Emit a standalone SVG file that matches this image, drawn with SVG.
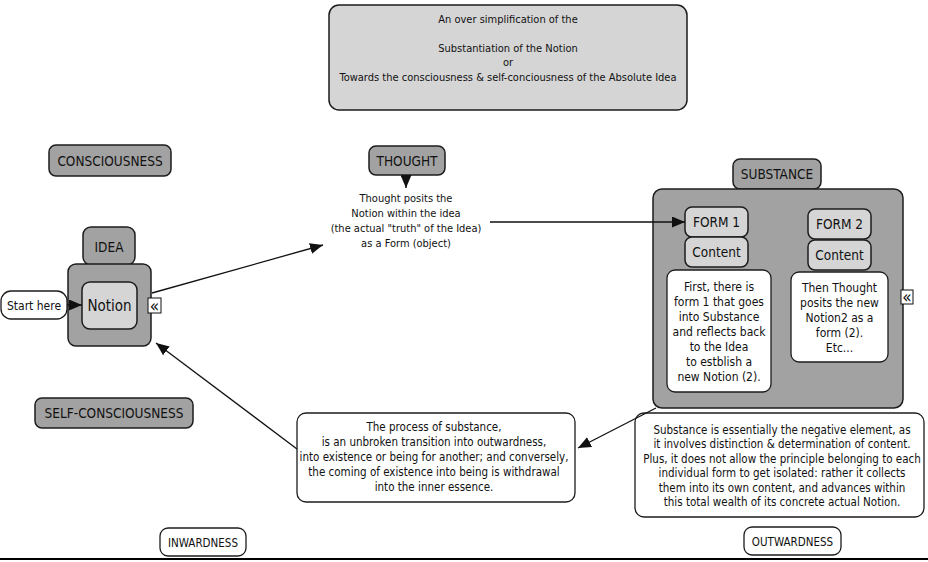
<svg xmlns="http://www.w3.org/2000/svg" width="928" height="562" viewBox="0 0 928 562">
<style>
.dark{fill:#a2a2a2;stroke:#1c1c1c;stroke-width:1.5}
.light{fill:#d5d5d5;stroke:#1c1c1c;stroke-width:1.5}
.white{fill:#ffffff;stroke:#1c1c1c;stroke-width:1.3}
text{font-family:"DejaVu Sans Condensed","DejaVu Sans",sans-serif;font-stretch:condensed;fill:#111;text-anchor:middle}
.t11{font-size:11px}
.t115{font-size:11.5px}
.t12{font-size:12px}
.lbl{font-size:13.5px}
.ico{font-size:17px;font-family:"DejaVu Sans",sans-serif}
.conn{stroke:#111;stroke-width:1.3;fill:none;marker-end:url(#arr)}
</style>
<defs>
<marker id="arr" markerUnits="userSpaceOnUse" markerWidth="13" markerHeight="11" refX="13" refY="5.5" orient="auto">
<path d="M0,0 L13,5.5 L0,11 z" fill="#111"/>
</marker>
</defs>
<rect width="928" height="562" fill="#ffffff"/>

<g id="title">
<rect class="light" x="329" y="5" width="358" height="105" rx="10"/>
<text class="t11" x="508" y="22.5">An over simplification of the</text>
<text class="t11" x="508" y="51.5">Substantiation of the Notion</text>
<text class="t11" x="508" y="66">or</text>
<text class="t11" x="508" y="80.5">Towards the consciousness &amp; self-conciousness of the Absolute Idea</text>
</g>

<g id="consciousness">
<rect class="dark" x="49" y="145" width="122" height="31" rx="7"/>
<text class="lbl" x="110" y="165.5">CONSCIOUSNESS</text>
</g>

<g id="thought">
<rect class="dark" x="369" y="146" width="76" height="29" rx="7"/>
<text class="lbl" x="407" y="165.5">THOUGHT</text>
</g>

<g id="thought-text">
<text class="t11" x="406" y="202">Thought posits the</text>
<text class="t11" x="406" y="217">Notion within the idea</text>
<text class="t11" x="406" y="232">(the actual "truth" of the Idea)</text>
<text class="t11" x="406" y="247">as a Form (object)</text>
</g>

<g id="substance">
<rect class="dark" x="733" y="159" width="88" height="30" rx="7"/>
<text class="lbl" x="777" y="179">SUBSTANCE</text>
<rect class="dark" x="653" y="189" width="250" height="219" rx="9"/>
</g>

<g id="form1">
<rect class="light" x="685" y="207" width="63" height="30" rx="7"/>
<text class="lbl" x="716.5" y="227">FORM 1</text>
</g>
<g id="content1">
<rect class="light" x="685" y="237" width="63" height="30" rx="7"/>
<text class="lbl" x="716.5" y="257">Content</text>
</g>
<g id="form1-text">
<rect class="white" x="667" y="270" width="104" height="122" rx="8"/>
<text class="t12" x="719" y="291">First, there is</text>
<text class="t12" x="719" y="306">form 1 that goes</text>
<text class="t12" x="719" y="321">into Substance</text>
<text class="t12" x="719" y="336">and reflects back</text>
<text class="t12" x="719" y="351">to the Idea</text>
<text class="t12" x="719" y="366">to estblish a</text>
<text class="t12" x="719" y="381">new Notion (2).</text>
</g>

<g id="form2">
<rect class="light" x="808" y="209" width="63" height="30" rx="7"/>
<text class="lbl" x="839.5" y="229">FORM 2</text>
</g>
<g id="content2">
<rect class="light" x="808" y="240" width="63" height="30" rx="7"/>
<text class="lbl" x="839.5" y="260">Content</text>
</g>
<g id="form2-text">
<rect class="white" x="791" y="272" width="97" height="90" rx="8"/>
<text class="t12" x="839.5" y="292">Then Thought</text>
<text class="t12" x="839.5" y="307">posits the new</text>
<text class="t12" x="839.5" y="322">Notion2 as a</text>
<text class="t12" x="839.5" y="337">form (2).</text>
<text class="t12" x="839.5" y="352">Etc...</text>
</g>
<g id="collapse-right">
<rect fill="#fff" stroke="#111" stroke-width="1" x="901" y="290" width="12" height="14"/>
<text class="ico" x="907" y="303">«</text>
</g>

<g id="idea">
<rect class="dark" x="83" y="227" width="52" height="38" rx="8"/>
<text class="lbl" x="109" y="252">IDEA</text>
<rect class="dark" x="68" y="264" width="83" height="82" rx="8"/>
</g>
<g id="notion">
<rect class="light" x="82" y="282" width="55" height="47" rx="8"/>
<text x="109.5" y="311" style="font-size:15px">Notion</text>
</g>
<g id="collapse-left">
<rect fill="#fff" stroke="#111" stroke-width="1" x="148" y="298" width="13" height="15"/>
<text class="ico" x="154.5" y="311.5">«</text>
</g>
<g id="start">
<rect class="white" x="1" y="291" width="66" height="28" rx="10"/>
<text class="t12" x="34" y="309.5">Start here</text>
</g>

<g id="self-consciousness">
<rect class="dark" x="35" y="398" width="158" height="30" rx="7"/>
<text class="lbl" x="114" y="418">SELF-CONSCIOUSNESS</text>
</g>

<g id="process">
<rect class="white" x="297" y="413" width="278" height="89" rx="9"/>
<text class="t115" x="434" y="431">The process of substance,</text>
<text class="t115" x="434" y="446">is an unbroken transition into outwardness,</text>
<text class="t115" x="434" y="461">into existence or being for another; and conversely,</text>
<text class="t115" x="434" y="476">the coming of existence into being is withdrawal</text>
<text class="t115" x="434" y="491">into the inner essence.</text>
</g>

<g id="substance-text">
<rect class="white" x="635" y="413" width="289" height="104" rx="9"/>
<text class="t115" x="782" y="433.5">Substance is essentially the negative element, as</text>
<text class="t115" x="782" y="448">it involves distinction &amp; determination of content.</text>
<text class="t115" x="782" y="462.5">Plus, it does not allow the principle belonging to each</text>
<text class="t115" x="782" y="477">individual form to get isolated: rather it collects</text>
<text class="t115" x="782" y="491.5">them into its own content,  and advances within</text>
<text class="t115" x="782" y="506">this total wealth of its concrete actual Notion.</text>
</g>

<g id="inwardness">
<rect class="white" x="160" y="528" width="86" height="28" rx="8"/>
<text class="t115" x="203" y="546.5">INWARDNESS</text>
</g>
<g id="outwardness">
<rect class="white" x="744" y="527" width="97" height="28" rx="8"/>
<text class="t115" x="792.5" y="545.5">OUTWARDNESS</text>
</g>

<g id="connectors">
<line class="conn" x1="67" y1="305" x2="82" y2="305"/>
<line class="conn" x1="152" y1="293" x2="323" y2="245"/>
<line class="conn" x1="406" y1="175" x2="406" y2="188"/>
<line class="conn" x1="490" y1="222" x2="685" y2="222"/>
<line class="conn" x1="656" y1="408" x2="578" y2="448"/>
<line class="conn" x1="297" y1="449" x2="156" y2="343"/>
</g>

<line x1="0" y1="559" x2="928" y2="559" stroke="#000" stroke-width="2"/>
</svg>
